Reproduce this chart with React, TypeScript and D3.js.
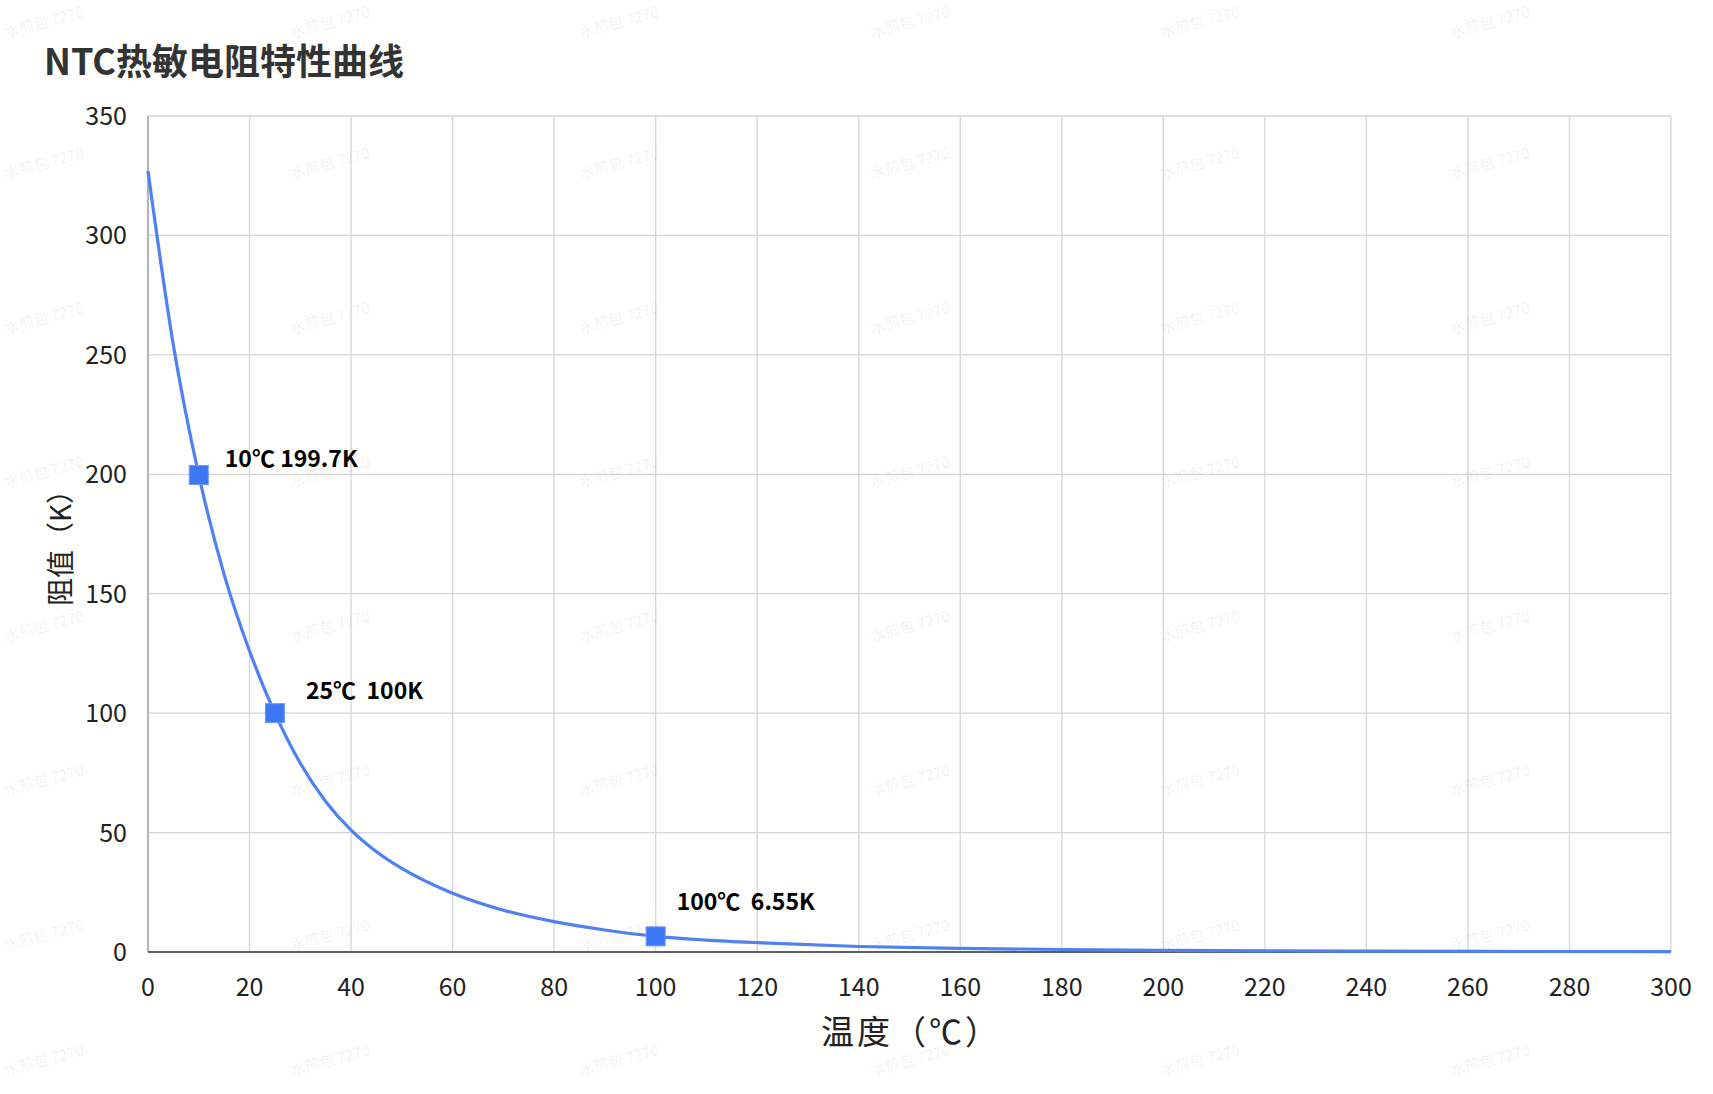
import React from "react";
import * as d3 from "d3";

// ---- data ----
const temps = [0, 5, 10, 15, 20, 25, 30, 35, 40, 45, 50, 60, 70, 80, 90, 100, 110, 120, 140, 160, 180, 200, 240, 300];
const resistances = [327, 254, 199.7, 158, 126, 100, 79, 63, 51, 42, 35, 24.6, 17.5, 12.7, 9.2, 6.55, 5.0, 3.9, 2.3, 1.5, 1.05, 0.7, 0.35, 0.15];

const markerTemps = [10, 25, 100];
const markerValues = [199.7, 100, 6.55];
const markerLabels = ["10℃ 199.7K", "25℃  100K", "100℃  6.55K"];

const xTicks = [0, 20, 40, 60, 80, 100, 120, 140, 160, 180, 200, 220, 240, 260, 280, 300];
const yTicks = [0, 50, 100, 150, 200, 250, 300, 350];

const title = "NTC热敏电阻特性曲线";
const xTitle = "温度（℃）";
const yTitle = "阻值（K）";
const watermark = "水煎包 7270";

// ---- layout / style (not data) ----
const W = 1713;
const H = 1094;
const M = { left: 148, right: 1671, top: 116, bottom: 952 };
const labelOffsets = [
  [26, -8],
  [31, -14],
  [21, -26],
];
const FONT = "'Noto Sans CJK SC', 'Noto Sans', sans-serif";

export default function App() {
  const x = d3.scaleLinear().domain([0, 300]).range([M.left, M.right]);
  const y = d3.scaleLinear().domain([0, 350]).range([M.bottom, M.top]);

  const pts = temps.map((t, i) => [t, resistances[i]] as [number, number]);
  const line = d3
    .line<[number, number]>()
    .x((d) => x(d[0]))
    .y((d) => y(d[1]))
    .curve(d3.curveMonotoneX);

  const wmCols = [6, 292, 581, 872, 1162, 1452];
  const wmRows = [30, 171, 326, 480, 634, 788, 943, 1068];

  return (
    <svg
      width={W}
      height={H}
      style={{ position: "absolute", left: 0, top: 0, background: "#fefefd" }}
      fontFamily={FONT}
    >
      <rect x={0} y={0} width={W} height={H} fill="#fefefd" />
      {/* title */}
      <text x={44} y={75} fontSize={36} fontWeight="bold" fill="#333333">
        {title}
      </text>

      {/* grid */}
      {yTicks.map((t) => (
        <line key={"gy" + t} x1={M.left} x2={M.right} y1={y(t)} y2={y(t)} stroke="#d4d6db" strokeWidth={1.3} />
      ))}
      {xTicks.map((t) => (
        <line key={"gx" + t} x1={x(t)} x2={x(t)} y1={M.top} y2={M.bottom} stroke="#d4d6db" strokeWidth={1.3} />
      ))}

      {/* axes */}
      <line x1={M.left} x2={M.left} y1={M.top} y2={M.bottom} stroke="#b3b6bb" strokeWidth={2.2} />
      <line x1={M.left} x2={M.right} y1={M.bottom} y2={M.bottom} stroke="#5c5f65" strokeWidth={2} />

      {/* tick labels */}
      {yTicks.map((t) => (
        <text key={"ly" + t} x={127} y={y(t) + 9} textAnchor="end" fontSize={25} fill="#222222">
          {t}
        </text>
      ))}
      {xTicks.map((t) => (
        <text key={"lx" + t} x={x(t)} y={996} textAnchor="middle" fontSize={25} fill="#222222">
          {t}
        </text>
      ))}

      {/* axis titles */}
      <text x={911} y={1044} textAnchor="middle" fontSize={33} letterSpacing={3} fill="#222222">
        {xTitle}
      </text>
      <text
        transform={`translate(71, 541) rotate(-90)`}
        textAnchor="middle"
        fontSize={28}
        fill="#222222"
      >
        {yTitle}
      </text>

      {/* curve */}
      <path d={line(pts) || ""} fill="none" stroke="#4f81f0" strokeWidth={3.2} />

      {/* markers */}
      {markerTemps.map((t, i) => (
        <g key={"m" + t}>
          <rect
            x={x(t) - 9.5}
            y={y(markerValues[i]) - 9.5}
            width={19}
            height={19}
            fill="#3e77f6"
            stroke="#6b98f6"
            strokeWidth={1}
          />
          <text
            x={x(t) + labelOffsets[i][0]}
            y={y(markerValues[i]) + labelOffsets[i][1]}
            fontSize={23}
            fontWeight="bold"
            fill="#000000"
            style={{ whiteSpace: "pre" }}
          >
            {markerLabels[i]}
          </text>
        </g>
      ))}

      {/* watermarks */}
      {wmRows.map((r) =>
        wmCols.map((c) => (
          <text
            key={"wm" + r + "_" + c}
            transform={`translate(${c}, ${r + 8}) rotate(-15)`}
            fontSize={15}
            fill="#000000"
            fillOpacity={0.06}
          >
            {watermark}
          </text>
        ))
      )}
    </svg>
  );
}
